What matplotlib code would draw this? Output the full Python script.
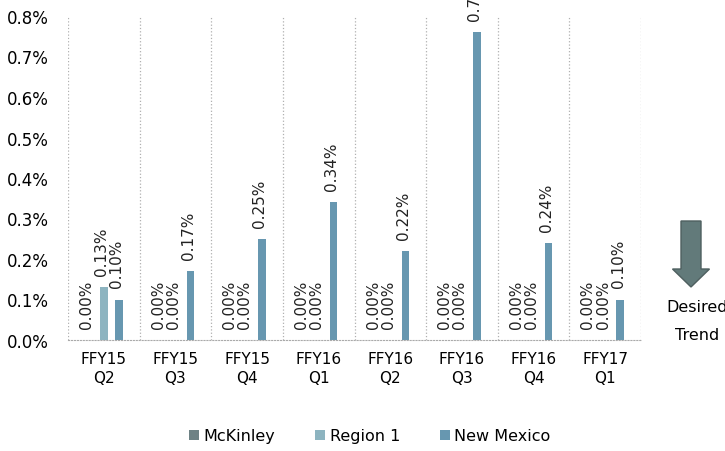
import numpy as np
import matplotlib.pyplot as plt
from matplotlib.patches import FancyArrow

quarters = ["FFY15\nQ2", "FFY15\nQ3", "FFY15\nQ4", "FFY16\nQ1",
            "FFY16\nQ2", "FFY16\nQ3", "FFY16\nQ4", "FFY17\nQ1"]
mckinley = [0.00, 0.00, 0.00, 0.00, 0.00, 0.00, 0.00, 0.00]
region1 = [0.13, 0.00, 0.00, 0.00, 0.00, 0.00, 0.00, 0.00]
new_mexico = [0.10, 0.17, 0.25, 0.34, 0.22, 0.76, 0.24, 0.10]

series = [("McKinley", mckinley, "#6e8285"),
          ("Region 1", region1, "#8db4c0"),
          ("New Mexico", new_mexico, "#6797b0")]

fig = plt.figure(figsize=(7.25, 4.52), dpi=100)
ax = fig.add_axes([68/725, 1-341/452, (641-68)/725, (341-17)/452])

x = np.arange(len(quarters))
w = 0.105
offsets = [-0.21, 0.0, 0.21]
for (name, vals, col), off in zip(series, offsets):
    bars = ax.bar(x + off, vals, width=w, color=col, label=name)
    for xi, v in zip(x + off, vals):
        ax.text(xi - 0.03, v + 0.03, "%.2f%%" % v, rotation=90, ha="center",
                va="bottom", fontsize=11, color="#222222")

ax.set_xlim(-0.5, len(quarters) - 0.5)
ax.set_ylim(0, 0.8)
ax.set_yticks(np.arange(0, 0.81, 0.1))
ax.set_yticklabels(["%.1f%%" % t for t in np.arange(0, 0.81, 0.1)], fontsize=12)
ax.set_xticks(x)
ax.set_xticklabels(quarters, fontsize=11, linespacing=1.3)
ax.tick_params(axis="y", length=0, pad=14)
ax.tick_params(axis="x", length=0, pad=8)

for s in ["top", "right", "left"]:
    ax.spines[s].set_visible(False)
ax.spines["bottom"].set_linestyle(":")
ax.spines["bottom"].set_color("#aaaaaa")
for b in np.arange(-0.5, len(quarters), 1.0):
    ax.axvline(b, color="#b0b0b0", linestyle=":", linewidth=0.9, zorder=0)

fig.legend(loc="center", bbox_to_anchor=(370/725, 1-437/452), ncol=3,
           frameon=False, fontsize=11.5, handlelength=0.6, handleheight=0.6,
           handletextpad=0.3, columnspacing=2.5)

# desired trend arrow
arr = FancyArrow(691/725, 1-222/452, 0, -(66/452), width=20/725,
                 head_width=37/725, head_length=18/452, length_includes_head=True,
                 transform=fig.transFigure, facecolor="#627a7a", edgecolor="#4e5f5f",
                 linewidth=1)
fig.patches.append(arr)
fig.text(697/725, 1-308/452, "Desired", ha="center", va="center", fontsize=11.5)
fig.text(697/725, 1-336/452, "Trend", ha="center", va="center", fontsize=11.5)

fig.savefig("out.png", dpi=100)
